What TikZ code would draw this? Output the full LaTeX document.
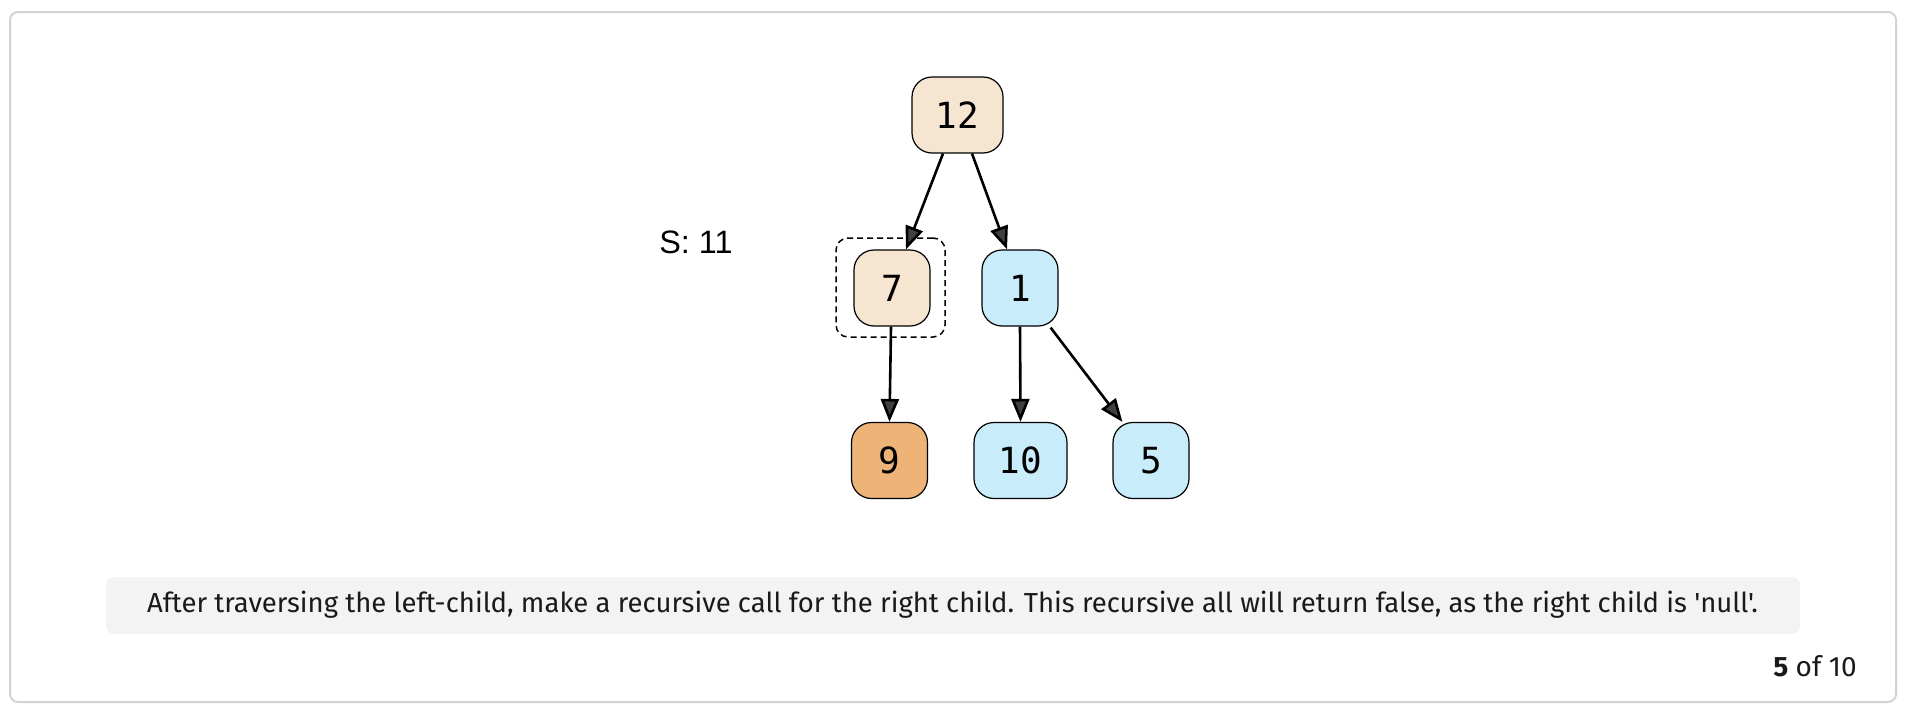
\documentclass[tikz,border=0pt]{standalone}
\usepackage{fontspec}
\setmainfont{Fira Sans}[Ligatures=TeXOff]
\newfontfamily\monodigits{DejaVu Sans Mono}
\newfontfamily\helv{Liberation Sans}
\usetikzlibrary{arrows.meta,calc}

\definecolor{tanfill}{HTML}{F6E5D0}
\definecolor{orangefill}{HTML}{EDB377}
\definecolor{bluefill}{HTML}{C8ECFA}
\definecolor{framegray}{HTML}{D3D3D3}
\definecolor{capfill}{HTML}{F3F3F3}
\definecolor{headgray}{HTML}{404040}
\definecolor{inkblack}{HTML}{1A1A1A}

\tikzset{
  treenode/.style={draw=black, line width=0.6pt, rounded corners=10pt,
    inner sep=0pt, minimum height=38pt, minimum width=38pt,
    font=\monodigits\fontsize{18}{18}\selectfont},
  tan/.style={fill=tanfill},
  blue/.style={fill=bluefill},
  orange/.style={fill=orangefill},
  link/.style={line width=1.3pt, draw=black,
    -{Triangle[length=11.5pt,width=9pt,fill=headgray]}},
  selbox/.style={draw=black, dashed, dash pattern=on 3pt off 2pt,
    line width=0.75pt, rounded corners=6pt, inner sep=0pt,
    minimum width=54.5pt, minimum height=49.5pt},
}

\begin{document}
\begin{tikzpicture}[x=0.5pt, y=-0.5pt]
  \useasboundingbox (0,0) rectangle (1910,712);

  % outer card
  \draw[framegray, line width=1pt, rounded corners=4pt] (10,12) rectangle (1896,702);

  % tree
  \node[treenode, tan, minimum width=45.5pt] (n12) at (957.5,115) {12};
  \node[treenode, tan]    (n7)  at (892,288)  {7};
  \node[treenode, blue]   (n1)  at (1020,288) {1};
  \node[treenode, orange] (n9)  at (889.5,460.5) {9};
  \node[treenode, blue, minimum width=46.5pt] (n10) at (1020.5,460.5) {10};
  \node[treenode, blue]   (n5)  at (1151,460.5) {5};

  % current node marker
  \node[selbox] (sel) at (890.5,287.5) {};

  % edges
  \draw[link] ($(n12.south)+(-14.5,0)$) -- ($(n7.north)+(14,0)$);
  \draw[link] ($(n12.south)+(14.5,0)$) -- ($(n1.north)+(-13,0)$);
  \draw[link] ($(n7.south)+(-1,0)$) -- (n9.north);
  \draw[link] (n1.south) -- (n10.north);
  \draw[link] ($(n1.south east)+(-8,1)$) -- ($(n5.north west)+(10,0)$);

  % running sum
  \node[font=\helv\fontsize{16.2}{16}\selectfont, anchor=base, inner sep=0pt] (sum) at (696,253) {S: 11};

  % caption
  \node[fill=capfill, rounded corners=4pt, minimum width=847pt, minimum height=28.5pt,
        inner sep=0pt] (capbox) at (953,605.5) {};
  \node[font=\fontsize{13.5}{14}\selectfont, text=inkblack, inner sep=0pt, anchor=base] (cap) at (952.5,612)
    {\resizebox{805.5pt}{!}{After traversing the left-child, make a recursive call for the right child. This recursive all will return false, as the right child is 'null'.}};

  % step counter
  \node[font=\fontsize{14}{14}\selectfont, text=inkblack, anchor=base east, inner sep=0pt] (step) at (1857,676)
    {\textbf{5} of 10};
\end{tikzpicture}
\end{document}
